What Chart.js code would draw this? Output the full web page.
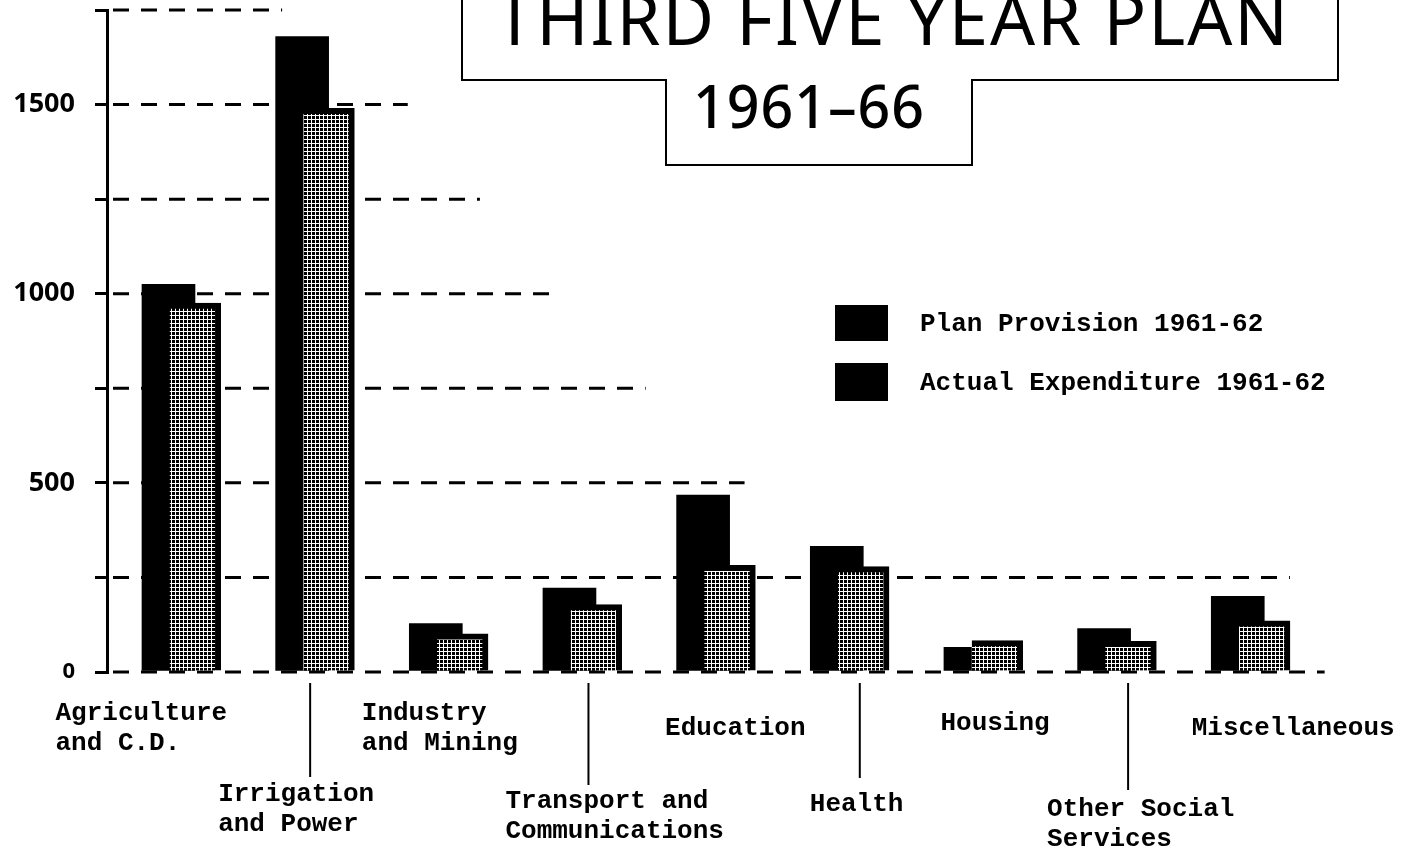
<!DOCTYPE html>
<html>
<head>
<meta charset="utf-8">
<title>Third Five Year Plan 1961-66</title>
<script src="https://cdn.jsdelivr.net/npm/chart.js@4.4.1/dist/chart.umd.min.js"></script>
<style>
  body { margin: 0; background: #fff; }
  #wrap { width: 1406px; height: 859px; position: relative; }
</style>
</head>
<body>
<div id="wrap"><canvas id="planChart"></canvas></div>
<script>
// values (Rs. crores)
var categories = [
    ["Agriculture", "and C.D."],
    ["Irrigation", "and Power"],
    ["Industry", "and Mining"],
    ["Transport and", "Communications"],
    ["Education"],
    ["Health"],
    ["Housing"],
    ["Other Social", "Services"],
    ["Miscellaneous"]
];
var seriesNames = ["Plan Provision 1961-62", "Actual Expenditure 1961-62"];
var planProvision = [1025, 1680, 128, 222, 468, 332, 65, 115, 200];
var actualExpenditure = [975, 1490, 101, 178, 282, 279, 83, 81, 135];
var yTicks = [0, 500, 1000, 1500];
var titleLines = ["THIRD FIVE YEAR PLAN", "1961\u201366"];

var monoFont = "'Liberation Mono', 'DejaVu Sans Mono', monospace";

// stipple fill for the actual expenditure bars
function makeStipple() {
    var c = document.createElement("canvas");
    c.width = 4;
    c.height = 4;
    var g = c.getContext("2d");
    g.fillStyle = "#fff";
    g.fillRect(0, 0, 4, 4);
    g.fillStyle = "#000";
    g.fillRect(0, 0, 3, 3);
    return g.createPattern(c, "repeat");
}

// dashed guide lines, each stops at a different point along x (in category units)
var gridEnds = { 0: 8.65, 250: 8.39, 500: 4.31, 750: 3.57, 1000: 2.85, 1250: 2.33, 1500: 1.79, 1750: 0.85 };

var dashGrid = {
    id: "dashGrid",
    beforeDatasetsDraw: function(chart) {
        var ctx = chart.ctx;
        var xs = chart.scales.x;
        var ys = chart.scales.y;
        ctx.save();
        ctx.strokeStyle = "#000";
        ctx.lineWidth = 3;
        ctx.setLineDash([16, 12]);
        for (var v in gridEnds) {
            var y = ys.getPixelForValue(Number(v));
            ctx.beginPath();
            ctx.moveTo(chart.chartArea.left + 6, y);
            ctx.lineTo(xs.getPixelForValue(gridEnds[v]), y);
            ctx.stroke();
        }
        ctx.restore();
    }
};

// category label placement: dx from the category pixel, first baseline, connector line
var labelLayout = [
    { dx: -113, y: 720 },
    { dx: -84, y: 801, line: 8, lineEnd: 777 },
    { dx: -74, y: 720 },
    { dx: -64, y: 808, line: 19, lineEnd: 785 },
    { dx: -38, y: 735 },
    { dx: -27, y: 811, line: 23, lineEnd: 778 },
    { dx: -30, y: 730 },
    { dx: -57, y: 816, line: 24, lineEnd: 790 },
    { dx: -46, y: 735 }
];

var decorations = {
    id: "decorations",
    afterDraw: function(chart) {
        var ctx = chart.ctx;
        var xs = chart.scales.x;
        ctx.save();
        ctx.fillStyle = "#000";
        ctx.strokeStyle = "#000";

        // category labels under the axis
        ctx.font = "bold 26px " + monoFont;
        ctx.textAlign = "left";
        ctx.textBaseline = "alphabetic";
        for (let i = 0; i < categories.length; i++) {
            var lay = labelLayout[i];
            var px = xs.getPixelForValue(i);
            for (let j = 0; j < categories[i].length; j++) {
                ctx.fillText(categories[i][j], px + lay.dx, lay.y + j * 30);
            }
            if (lay.line !== undefined) {
                ctx.lineWidth = 2;
                ctx.beginPath();
                ctx.moveTo(px + lay.line, 683);
                ctx.lineTo(px + lay.line, lay.lineEnd);
                ctx.stroke();
            }
        }

        // legend (both keys print black in the original)
        ctx.fillRect(835, 305, 53, 36);
        ctx.fillRect(835, 363, 53, 38);
        ctx.textBaseline = "middle";
        ctx.fillText(seriesNames[0], 920, 324);
        ctx.fillText(seriesNames[1], 920, 383);

        // title box
        ctx.lineWidth = 2;
        ctx.beginPath();
        ctx.moveTo(462, -5);
        ctx.lineTo(462, 80);
        ctx.lineTo(666, 80);
        ctx.lineTo(666, 165);
        ctx.lineTo(972, 165);
        ctx.lineTo(972, 80);
        ctx.lineTo(1338, 80);
        ctx.lineTo(1338, -5);
        ctx.stroke();

        ctx.textBaseline = "alphabetic";
        ctx.letterSpacing = "2px";
        ctx.font = "72px 'Noto Sans', sans-serif";
        ctx.fillText(titleLines[0], 495, 45, 795);
        ctx.letterSpacing = "1px";
        ctx.font = "500 60px 'Noto Sans', sans-serif";
        ctx.fillText(titleLines[1], 693, 128, 232);
        ctx.restore();
    }
};

var ctx = document.getElementById("planChart").getContext("2d");
var planChart = new Chart(ctx, {
    type: "bar",
    data: {
        datasets: [
            {
                label: seriesNames[0],
                data: planProvision.map(function(v, i) { return { x: i, y: v }; }),
                backgroundColor: "#000",
                borderWidth: 0,
                barThickness: 53,
                grouped: false,
                order: 2
            },
            {
                label: seriesNames[1],
                data: actualExpenditure.map(function(v, i) { return { x: i + 0.2, y: v }; }),
                backgroundColor: makeStipple(),
                borderColor: "#000",
                borderWidth: { top: 6, right: 6, left: 0, bottom: 0 },
                barThickness: 51,
                grouped: false,
                order: 1
            }
        ]
    },
    options: {
        responsive: true,
        maintainAspectRatio: false,
        animation: false,
        layout: { padding: { left: 0, top: 10, right: 72, bottom: 187 } },
        plugins: {
            legend: { display: false },
            tooltip: { enabled: false },
            title: { display: false }
        },
        scales: {
            x: {
                type: "linear",
                min: -0.46,
                max: 8.72,
                offset: false,
                display: false
            },
            y: {
                min: 0,
                max: 1750,
                afterFit: function(scale) {
                    scale.width = 107;
                    scale.paddingTop = 0;
                    scale.paddingBottom = 0;
                },
                ticks: {
                    stepSize: 250,
                    padding: 20,
                    color: "#000",
                    font: function(c) {
                        var small = c.tick && c.tick.value === 0;
                        return { family: "'Noto Sans', sans-serif", weight: "bold", size: small ? 22 : 27 };
                    },
                    callback: function(v) { return yTicks.indexOf(v) >= 0 ? v : ""; }
                },
                grid: {
                    drawOnChartArea: false,
                    drawTicks: true,
                    tickLength: 12,
                    lineWidth: 3,
                    color: "#000"
                },
                border: { display: true, width: 3, color: "#000" }
            }
        }
    },
    plugins: [dashGrid, decorations]
});
</script>
</body>
</html>
